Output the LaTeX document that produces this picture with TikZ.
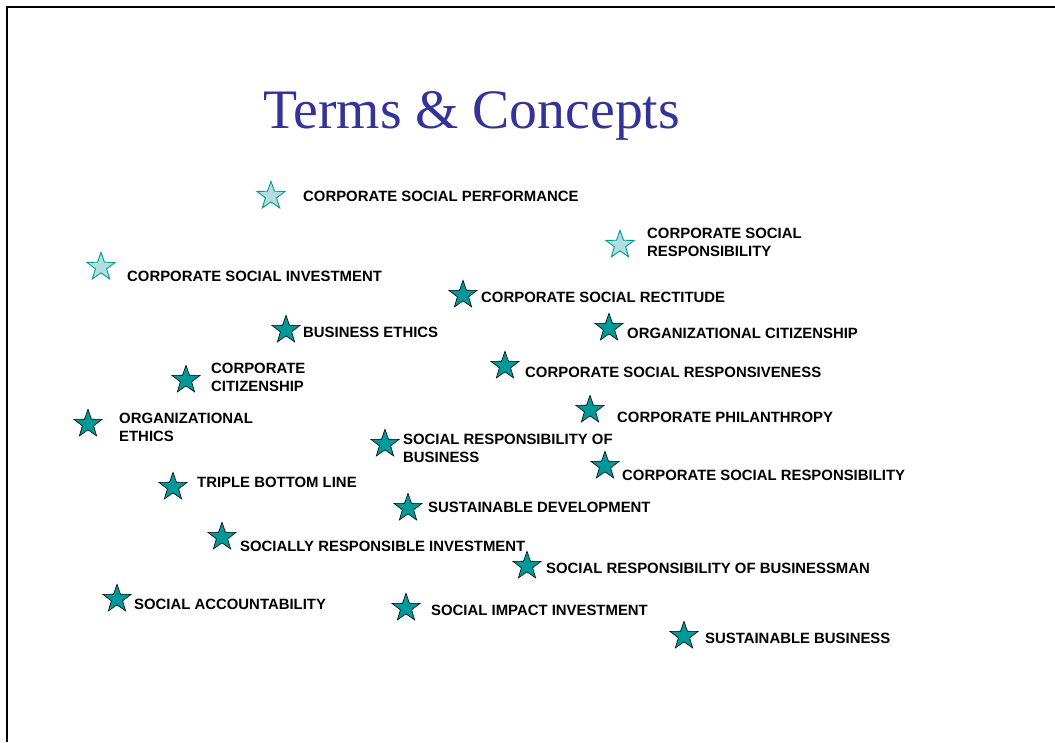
\documentclass[tikz,border=0pt]{standalone}
\usepackage{fontspec}
\setmainfont{Liberation Serif}
\setsansfont{Liberation Sans}
\usetikzlibrary{shapes.geometric,positioning}
\definecolor{titleblue}{RGB}{51,51,153}
\definecolor{teal}{RGB}{0,153,153}
\definecolor{lightteal}{RGB}{178,222,222}
\tikzset{
    term/.style={star, star points=5, star point ratio=2.5, minimum size=29.5pt, inner sep=0pt, draw=black, fill=teal, line width=0.6pt},
    oldterm/.style={term, draw=teal, fill=lightteal, line width=0.9pt},
    termlabel/.style={anchor=west, inner sep=0pt, align=left, font=\sffamily\bfseries\fontsize{14.9}{18}\selectfont},
}

\begin{document}
\begin{tikzpicture}[x=1pt,y=-1pt]
  \useasboundingbox (0,0) rectangle (1055,742);
  \draw[line width=2pt] (7,742) -- (7,7) -- (1055,7);

  \node[anchor=base west, inner sep=0pt, text=titleblue, font=\fontsize{55.7}{66}\selectfont] (title) at (263,128) {Terms \& Concepts};

  % TERMINOS ANTIGUOS
  \node[oldterm] (csperf) at (271,196) {};
  \node[termlabel] (csperflabel) at (303,196) {CORPORATE SOCIAL PERFORMANCE};

  \node[oldterm] (csresp) at (620,245) {};
  \node[termlabel] (csresplabel) at (647,242) {CORPORATE SOCIAL\\RESPONSIBILITY};

  \node[oldterm] (csinv) at (101,267) {};
  \node[termlabel] (csinvlabel) at (127,276) {CORPORATE SOCIAL INVESTMENT};

  % TERMINOS NUEVOS
  \node[term] (csrect) at (463,295) {};
  \node[termlabel] (csrectlabel) at (481,297) {CORPORATE SOCIAL RECTITUDE};

  \node[term] (bethics) at (286,330) {};
  \node[termlabel] (bethicslabel) at (303,332) {BUSINESS ETHICS};

  \node[term] (orgcit) at (609,328) {};
  \node[termlabel] (orgcitlabel) at (627,333) {ORGANIZATIONAL CITIZENSHIP};

  \node[term] (corpcit) at (186,380) {};
  \node[termlabel] (corpcitlabel) at (211,377) {CORPORATE\\CITIZENSHIP};

  \node[term] (csrespv) at (505,366) {};
  \node[termlabel] (csrespvlabel) at (525,372) {CORPORATE SOCIAL RESPONSIVENESS};

  \node[term] (orgeth) at (88,424) {};
  \node[termlabel] (orgethlabel) at (119,427) {ORGANIZATIONAL\\ETHICS};

  \node[term] (corpphil) at (590,410) {};
  \node[termlabel] (corpphillabel) at (617,417) {CORPORATE PHILANTHROPY};

  \node[term] (srbus) at (385,444) {};
  \node[termlabel] (srbuslabel) at (403,448) {SOCIAL RESPONSIBILITY OF\\BUSINESS};

  \node[term] (csr) at (605,466) {};
  \node[termlabel] (csrlabel) at (622,475) {CORPORATE SOCIAL RESPONSIBILITY};

  \node[term] (tbl) at (173,487) {};
  \node[termlabel] (tbllabel) at (197,482) {TRIPLE BOTTOM LINE};

  \node[term] (sdev) at (408,508) {};
  \node[termlabel] (sdevlabel) at (428,507) {SUSTAINABLE DEVELOPMENT};

  \node[term] (sri) at (222,537) {};
  \node[termlabel] (srilabel) at (240,546) {SOCIALLY RESPONSIBLE INVESTMENT};

  \node[term] (srbman) at (527,566) {};
  \node[termlabel] (srbmanlabel) at (546,568) {SOCIAL RESPONSIBILITY OF BUSINESSMAN};

  \node[term] (sacc) at (117,599) {};
  \node[termlabel] (sacclabel) at (134,604) {SOCIAL ACCOUNTABILITY};

  \node[term] (siinv) at (406,608) {};
  \node[termlabel] (siinvlabel) at (431,610) {SOCIAL IMPACT INVESTMENT};

  \node[term] (sbus) at (684,636) {};
  \node[termlabel] (sbuslabel) at (705,638) {SUSTAINABLE BUSINESS};
\end{tikzpicture}
\end{document}
